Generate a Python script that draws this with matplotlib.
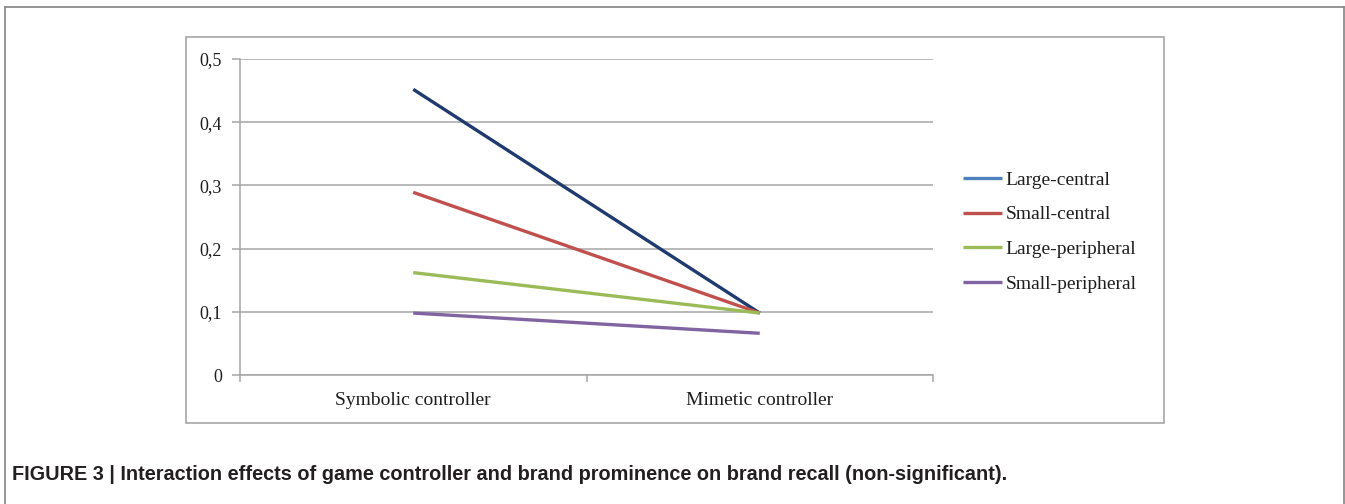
import matplotlib.pyplot as plt
from matplotlib.lines import Line2D
from matplotlib.patches import Rectangle
import numpy as np

categories = ['Symbolic controller', 'Mimetic controller']
series_names = ['Large-central', 'Small-central', 'Large-peripheral', 'Small-peripheral']
large_central = [0.452, 0.098]
small_central = [0.289, 0.098]
large_peripheral = [0.162, 0.098]
small_peripheral = [0.098, 0.066]
yticks = [0, 0.1, 0.2, 0.3, 0.4, 0.5]
ytick_labels = ['0', '0,1', '0,2', '0,3', '0,4', '0,5']
caption = ('FIGURE 3 | Interaction effects of game controller and brand prominence '
           'on brand recall (non-significant).')

line_colors = ['#1F3A6E', '#C0504D', '#9BBB59', '#8064A2']
legend_colors = ['#4F81BD', '#C0504D', '#9BBB59', '#8064A2']
grey = '#A6A6A6'
ink = '#1E1E1E'

W, H = 1345, 504
fig = plt.figure(figsize=(W / 100, H / 100), dpi=100)

# outer figure frame (open at the bottom)
for xs, ys in [([4.5, 4.5], [H, 7]), ([4.5, 1343.5], [7, 7]), ([1343.5, 1343.5], [7, H])]:
    fig.add_artist(Line2D([x / W for x in xs], [1 - y / H for y in ys],
                          color='#8C8C8C', lw=1.3, transform=fig.transFigure))

# chart area border
fig.add_artist(Rectangle((185.5 / W, 1 - 423 / H), (1164 - 185.5) / W, (423 - 37) / H,
                         fill=False, edgecolor=grey, lw=1.2, transform=fig.transFigure))

ax = fig.add_axes([240 / W, 1 - 375 / H, 693 / W, 316 / H])
x = np.arange(len(categories)) + 0.5
lines = []
for vals, c, name in zip([large_central, small_central, large_peripheral, small_peripheral],
                         line_colors, series_names):
    ln, = ax.plot(x, vals, color=c, lw=2.4, label=name, solid_capstyle='butt', zorder=3)
    lines.append(ln)

ax.set_xlim(0, len(categories))
ax.set_ylim(0, 0.5)
ax.set_yticks(yticks)
ax.set_yticklabels(ytick_labels)
ax.set_xticks(x)
ax.set_xticklabels(categories)
ax.set_xticks(np.arange(len(categories) + 1), minor=True)
ax.yaxis.grid(True, color=grey, lw=1.1)
ax.set_axisbelow(True)

for s in ['top', 'right']:
    ax.spines[s].set_visible(False)
for s in ['left', 'bottom']:
    ax.spines[s].set_color(grey)
    ax.spines[s].set_linewidth(1.1)

serif = ['Liberation Serif', 'DejaVu Serif']
ax.tick_params(axis='y', length=6, width=1.1, color=grey, pad=7,
               labelsize=13, labelcolor=ink)
ax.tick_params(axis='x', which='major', length=0, pad=12, labelsize=14, labelcolor=ink)
ax.tick_params(axis='x', which='minor', length=5, width=1.1, color=grey)
for lab in ax.get_xticklabels() + ax.get_yticklabels():
    lab.set_fontfamily(serif)

leg = fig.legend(handles=lines, loc='center left', bbox_to_anchor=(963 / W, 1 - 232 / H),
                 frameon=False, borderpad=0, borderaxespad=0, handlelength=2.0,
                 handletextpad=0.2, labelspacing=0.88, prop={'family': serif, 'size': 14})
for lh, c in zip(leg.get_lines(), legend_colors):
    lh.set_color(c)
for t in leg.get_texts():
    t.set_color(ink)

fig.text(12 / W, 1 - 475 / H, caption, ha='left', va='center', fontsize=14.3,
         fontweight='bold', family=['Liberation Sans', 'DejaVu Sans'], color='#231F20')

fig.savefig('out.png', dpi=100)
